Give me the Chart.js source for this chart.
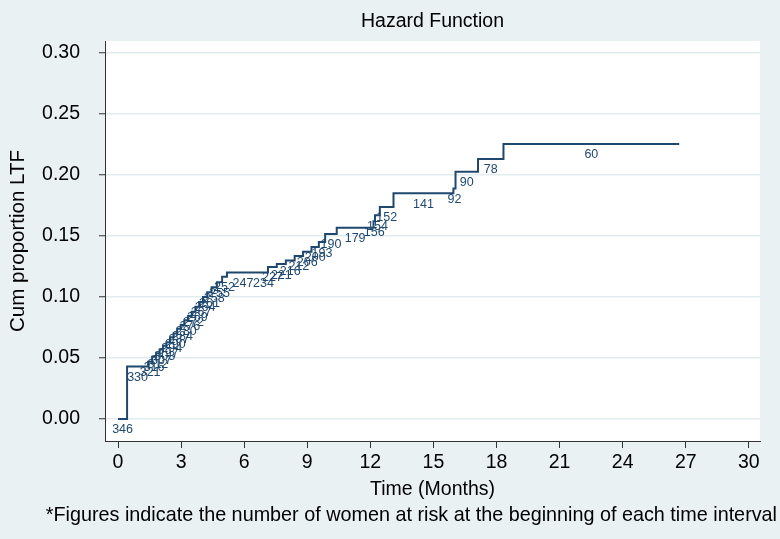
<!DOCTYPE html>
<html>
<head>
<meta charset="utf-8">
<script src="https://cdn.jsdelivr.net/npm/chart.js@4.4.1/dist/chart.umd.min.js"></script>
<style>
html, body { margin: 0; padding: 0; background: #e9f1f3; }
#wrap { width: 780px; height: 539px; }
</style>
</head>
<body>
<div id="wrap"><canvas id="c" width="780" height="539"></canvas></div>
<script>
// ---- data ----
const intervalStart = [0, 0.43, 1.43, 1.62, 1.81, 1.98, 2.14, 2.30, 2.47, 2.64, 2.81, 2.98, 3.15, 3.33, 3.50, 3.68, 3.86, 4.04, 4.24, 4.45, 4.70, 4.95, 5.18, 6.70, 7.13, 7.55, 7.98, 8.40, 8.80, 9.20, 9.55, 9.85, 10.40, 12.15, 12.22, 12.45, 13.10, 15.95, 16.05, 17.12, 18.33];
const lastIntervalEnd = 26.69;
const cumFailure = [0.000, 0.043, 0.047, 0.051, 0.054, 0.057, 0.060, 0.063, 0.067, 0.070, 0.074, 0.077, 0.081, 0.0845, 0.088, 0.092, 0.096, 0.100, 0.104, 0.108, 0.112, 0.1166, 0.120, 0.120, 0.1246, 0.127, 0.130, 0.1336, 0.137, 0.141, 0.145, 0.1516, 0.1568, 0.162, 0.167, 0.1738, 0.185, 0.189, 0.2027, 0.2131, 0.2254];
const atRisk = [346, 330, 321, 316, 312, 307, 303, 297, 294, 290, 287, 284, 280, 276, 272, 269, 267, 264, 261, 258, 255, 252, 247, 234, 227, 221, 216, 212, 206, 200, 193, 190, 179, 156, 154, 152, 141, 92, 90, 78, 60];
const xTicks = [0, 3, 6, 9, 12, 15, 18, 21, 24, 27, 30];
const yTicks = [0, 0.05, 0.10, 0.15, 0.20, 0.25, 0.30];
const titleText = 'Hazard Function';
const xTitle = 'Time (Months)';
const yTitle = 'Cum proportion LTF';
const footnote = '*Figures indicate the number of women at risk at the beginning of each time interval';

// ---- derived ----
const intervalEnd = intervalStart.slice(1).concat([lastIntervalEnd]);
const stepPoints = intervalStart.map((t, i) => ({ x: t, y: cumFailure[i] }));
stepPoints.push({ x: lastIntervalEnd, y: cumFailure[cumFailure.length - 1] });

const FONT = '"Liberation Sans", Arial, Helvetica, sans-serif';
const NAVY = '#1f486f';
const BG = '#e9f1f3';
const AXIS = '#333333';

const bgPlugin = {
  id: 'bgPlugin',
  beforeDraw(chart) {
    const { ctx, chartArea: a } = chart;
    ctx.save();
    ctx.fillStyle = BG;
    ctx.fillRect(0, 0, chart.width, chart.height);
    ctx.fillStyle = '#ffffff';
    ctx.fillRect(a.left, a.top, a.right - a.left, a.bottom - a.top);
    ctx.restore();
  }
};

const labelPlugin = {
  id: 'labelPlugin',
  afterDatasetsDraw(chart) {
    const { ctx } = chart;
    const xs = chart.scales.x, ys = chart.scales.y;
    ctx.save();
    ctx.font = '12.5px ' + FONT;
    ctx.fillStyle = NAVY;
    ctx.textAlign = 'center';
    ctx.textBaseline = 'middle';
    atRisk.forEach((n, i) => {
      const mid = (intervalStart[i] + intervalEnd[i]) / 2;
      const px = xs.getPixelForValue(mid);
      const py = ys.getPixelForValue(cumFailure[i]) + 11;
      ctx.fillText(String(n), px, py);
    });
    ctx.restore();
  }
};

const footPlugin = {
  id: 'footPlugin',
  afterDraw(chart) {
    const { ctx } = chart;
    ctx.save();
    ctx.font = '19.8px ' + FONT;
    ctx.fillStyle = '#000';
    ctx.textAlign = 'right';
    ctx.textBaseline = 'middle';
    ctx.fillText(footnote, chart.width - 3, chart.height - 23);
    ctx.restore();
  }
};

new Chart(document.getElementById('c'), {
  type: 'line',
  data: {
    datasets: [{
      data: stepPoints,
      borderColor: NAVY,
      borderWidth: 2,
      pointRadius: 0,
      stepped: 'before',
      fill: false,
      tension: 0
    }]
  },
  options: {
    responsive: false,
    devicePixelRatio: 1,
    animation: false,
    layout: { padding: { left: 0, right: 20, top: 0, bottom: 35.4 } },
    plugins: {
      legend: { display: false },
      tooltip: { enabled: false },
      title: {
        display: true,
        text: titleText,
        fullSize: false,
        color: '#000',
        font: { family: FONT, size: 19.5, weight: 'normal' },
        padding: { top: 10, bottom: 7.6 }
      }
    },
    scales: {
      x: {
        type: 'linear',
        min: -0.62,
        max: 30.53,
        afterBuildTicks: s => { s.ticks = xTicks.map(v => ({ value: v })); },
        afterFit: s => { s.height = 62.6; },
        grid: { drawOnChartArea: false, drawTicks: true, tickLength: 7, tickColor: AXIS, tickWidth: 1 },
        border: { display: true, color: AXIS, width: 1 },
        ticks: {
          color: '#000',
          font: { family: FONT, size: 19.5 },
          padding: 3,
          maxRotation: 0,
          autoSkip: false,
          callback: v => String(v)
        },
        title: {
          display: true,
          text: xTitle,
          color: '#000',
          font: { family: FONT, size: 19.5 },
          padding: { top: 0, bottom: 2 }
        }
      },
      y: {
        type: 'linear',
        min: -0.018,
        max: 0.3098,
        afterBuildTicks: s => { s.ticks = yTicks.map(v => ({ value: v })); },
        afterFit: s => { s.width = 105; },
        grid: { color: '#e2ecef', lineWidth: 1.5, drawTicks: true, tickLength: 6, tickColor: AXIS, tickWidth: 1 },
        border: { display: true, color: AXIS, width: 1 },
        ticks: {
          color: '#000',
          font: { family: FONT, size: 19.5 },
          padding: 19,
          callback: v => Number(v).toFixed(2)
        },
        title: {
          display: true,
          text: yTitle,
          color: '#000',
          font: { family: FONT, size: 20.5 },
          padding: { top: 5.7, bottom: 0 }
        }
      }
    }
  },
  plugins: [bgPlugin, labelPlugin, footPlugin]
});
</script>
</body>
</html>
